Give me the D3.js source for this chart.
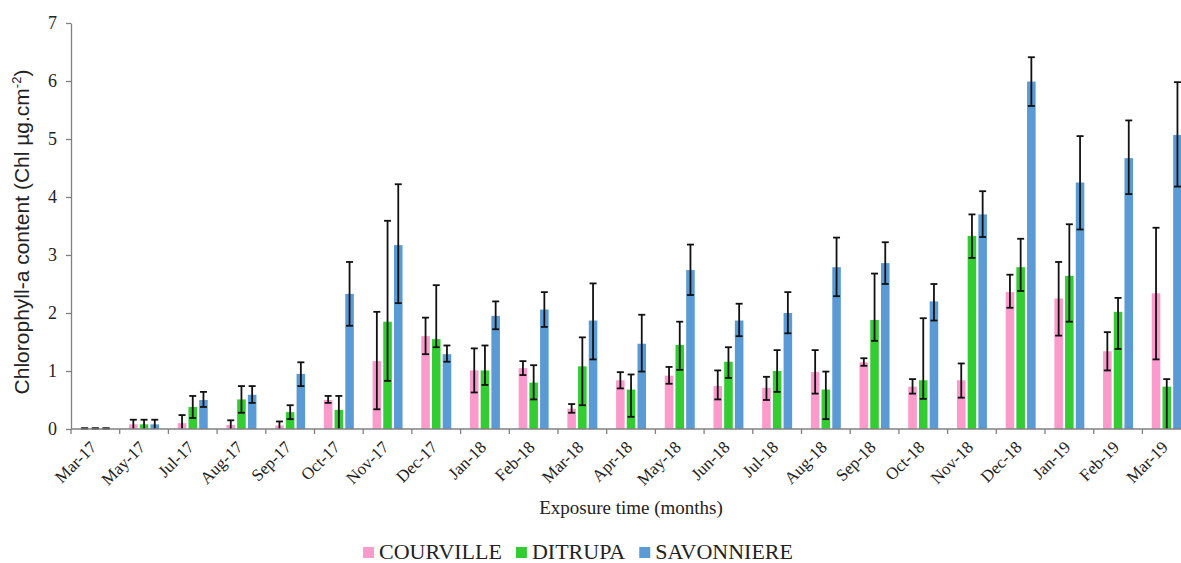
<!DOCTYPE html>
<html>
<head>
<meta charset="utf-8">
<script src="https://cdn.jsdelivr.net/npm/d3@7"></script>
<style>
  body { margin: 0; background: #fff; }
  svg { display: block; overflow: hidden; }
</style>
</head>
<body>
<div id="chart"></div>
<script>
// Data
const months = ["Mar-17", "May-17", "Jul-17", "Aug-17", "Sep-17", "Oct-17", "Nov-17", "Dec-17",
  "Jan-18", "Feb-18", "Mar-18", "Apr-18", "May-18", "Jun-18", "Jul-18", "Aug-18", "Sep-18",
  "Oct-18", "Nov-18", "Dec-18", "Jan-19", "Feb-19", "Mar-19"];
const seriesNames = ["COURVILLE", "DITRUPA", "SAVONNIERE"];
const yTicks = [0, 1, 2, 3, 4, 5, 6, 7];

const courville = [0.01, 0.08, 0.10, 0.07, 0.06, 0.50, 1.17, 1.60, 1.01, 1.05, 0.35, 0.84,
  0.92, 0.74, 0.71, 0.98, 1.15, 0.73, 0.84, 2.36, 2.25, 1.34, 2.34];
const courvillePlus = [0, 0.08, 0.14, 0.08, 0.07, 0.07, 0.85, 0.32, 0.38, 0.12, 0.08, 0.14,
  0.15, 0.27, 0.19, 0.38, 0.07, 0.13, 0.29, 0.30, 0.63, 0.33, 1.13];
const courvilleMinus = [0, 0.08, 0.10, 0.07, 0.06, 0.05, 0.83, 0.31, 0.38, 0.12, 0.07, 0.14,
  0.14, 0.23, 0.21, 0.37, 0.06, 0.12, 0.30, 0.27, 0.64, 0.33, 1.14];

const ditrupa = [0.01, 0.08, 0.38, 0.51, 0.29, 0.33, 1.85, 1.55, 1.01, 0.80, 1.08, 0.68,
  1.45, 1.16, 1.00, 0.68, 1.88, 0.84, 3.33, 2.79, 2.64, 2.02, 0.73];
const ditrupaPlus = [0, 0.08, 0.19, 0.23, 0.12, 0.24, 1.74, 0.93, 0.43, 0.30, 0.50, 0.26,
  0.40, 0.25, 0.36, 0.31, 0.80, 1.07, 0.37, 0.49, 0.89, 0.24, 0.13];
const ditrupaMinus = [0, 0.08, 0.19, 0.23, 0.12, 0.40, 1.02, 0.14, 0.25, 0.29, 0.67, 0.47,
  0.43, 0.28, 0.36, 0.51, 0.36, 0.32, 0.38, 0.41, 0.79, 0.64, 0.80];

const savonniere = [0.01, 0.08, 0.50, 0.59, 0.95, 2.33, 3.17, 1.29, 1.95, 2.06, 1.87, 1.47,
  2.74, 1.87, 2.00, 2.79, 2.86, 2.20, 3.70, 5.99, 4.25, 4.67, 5.07];
const savonnierePlus = [0, 0.08, 0.14, 0.15, 0.20, 0.55, 1.05, 0.15, 0.25, 0.30, 0.64, 0.50,
  0.44, 0.29, 0.36, 0.51, 0.36, 0.30, 0.40, 0.42, 0.80, 0.65, 0.91];
const savonniereMinus = [0, 0.08, 0.12, 0.14, 0.21, 0.55, 1.00, 0.13, 0.23, 0.30, 0.67, 0.48,
  0.43, 0.27, 0.35, 0.50, 0.36, 0.33, 0.39, 0.42, 0.81, 0.62, 0.89];

const colors = ["#fb9bcb", "#33cc33", "#5b9bd5"];

const width = 1181, height = 563;
const margin = {top: 23, left: 71, bottom: 134};
const bandStep = 48.7;
const serif = "'Liberation Serif', 'Times New Roman', serif";

const svg = d3.select("#chart").append("svg")
  .attr("width", width)
  .attr("height", height);

const x = d3.scaleBand()
  .domain(months)
  .range([margin.left, margin.left + bandStep * months.length])
  .padding(0);

const xSub = d3.scaleBand()
  .domain(seriesNames)
  .range([0, x.bandwidth()])
  .paddingInner(0.2)
  .paddingOuter(0.875);

const y = d3.scaleLinear().domain([0, 7]).range([height - margin.bottom, margin.top]);

const series = [
  {name: "COURVILLE", values: courville, plus: courvillePlus, minus: courvilleMinus},
  {name: "DITRUPA", values: ditrupa, plus: ditrupaPlus, minus: ditrupaMinus},
  {name: "SAVONNIERE", values: savonniere, plus: savonnierePlus, minus: savonniereMinus}
];

const axisColor = "#808080";

// Y axis
const yAxis = svg.append("g")
  .attr("transform", `translate(${margin.left},0)`)
  .call(d3.axisLeft(y).tickValues(yTicks).tickFormat(d3.format("d"))
    .tickSize(5).tickPadding(9).tickSizeOuter(0));
yAxis.attr("font-family", null).attr("font-size", null);
yAxis.select(".domain").attr("stroke", axisColor).attr("stroke-width", 1.3);
yAxis.selectAll(".tick line").attr("stroke", axisColor).attr("stroke-width", 1.3);
yAxis.selectAll(".tick text")
  .style("font-family", serif)
  .style("font-size", "18px")
  .attr("fill", "#222");

// Bars
series.forEach((s, si) => {
  const g = svg.append("g");
  const rows = months.map((m, i) => ({m, v: s.values[i], p: s.plus[i], n: s.minus[i]}));
  g.selectAll("rect")
    .data(rows)
    .join("rect")
    .attr("x", d => x(d.m) + xSub(s.name))
    .attr("width", xSub.bandwidth())
    .attr("y", d => y(d.v))
    .attr("height", d => y(0) - y(d.v))
    .attr("fill", colors[si]);

  // Error bars
  const cap = 3.5;
  const eb = g.selectAll("g.err")
    .data(rows)
    .join("g")
    .attr("class", "err")
    .attr("stroke", "#111")
    .attr("stroke-width", 1.8);
  const cx = d => x(d.m) + xSub(s.name) + xSub.bandwidth() / 2;
  eb.append("line")
    .attr("x1", cx).attr("x2", cx)
    .attr("y1", d => y(d.v + d.p))
    .attr("y2", d => y(Math.max(0, d.v - d.n)));
  eb.append("line")
    .attr("x1", d => cx(d) - cap).attr("x2", d => cx(d) + cap)
    .attr("y1", d => y(d.v + d.p)).attr("y2", d => y(d.v + d.p));
  eb.filter(d => d.v - d.n > 0.02 || d.n === 0)
    .append("line")
    .attr("x1", d => cx(d) - cap).attr("x2", d => cx(d) + cap)
    .attr("y1", d => y(d.v - d.n)).attr("y2", d => y(d.v - d.n));
});

// X axis (ticks between categories)
const xAxis = svg.append("g");
xAxis.append("line")
  .attr("x1", margin.left).attr("x2", x.range()[1])
  .attr("y1", y(0)).attr("y2", y(0))
  .attr("stroke", axisColor).attr("stroke-width", 1.3);
xAxis.selectAll("line.tick")
  .data(months)
  .join("line")
  .attr("class", "tick")
  .attr("x1", d => x(d)).attr("x2", d => x(d))
  .attr("y1", y(0)).attr("y2", y(0) + 5)
  .attr("stroke", axisColor).attr("stroke-width", 1.3);
xAxis.selectAll("text")
  .data(months)
  .join("text")
  .attr("transform", d => `translate(${x(d) + x.bandwidth() / 2 - 2},${y(0) + 15}) rotate(-45)`)
  .attr("text-anchor", "end")
  .attr("dy", "0.35em")
  .style("font-family", serif)
  .style("font-size", "17px")
  .attr("fill", "#222")
  .text(d => d);

// Axis titles
svg.append("text")
  .attr("x", 631)
  .attr("y", 514)
  .attr("text-anchor", "middle")
  .style("font-family", serif)
  .style("font-size", "19px")
  .attr("fill", "#222")
  .text("Exposure time (months)");

const yTitle = svg.append("text")
  .attr("transform", `translate(29,${(y(0) + y(7)) / 2 + 6}) rotate(-90)`)
  .attr("text-anchor", "middle")
  .style("font-family", "'Liberation Sans', Arial, sans-serif")
  .style("font-size", "21px")
  .attr("fill", "#222");
yTitle.append("tspan").text("Chlorophyll-a content (Chl µg.cm");
yTitle.append("tspan").style("font-size", "13px").attr("dy", -8).text("-2");
yTitle.append("tspan").attr("dy", 8).text(")");

// Legend
const legend = svg.append("g");
let lx = 0;
seriesNames.forEach((name, i) => {
  const item = legend.append("g");
  item.append("rect")
    .attr("x", 0).attr("y", -12).attr("width", 11).attr("height", 11)
    .attr("fill", colors[i]);
  const t = item.append("text")
    .attr("x", 16).attr("y", 0)
    .style("font-family", serif)
    .style("font-size", "22px")
    .attr("fill", "#222")
    .text(name);
  const w = 16 + t.node().getComputedTextLength();
  item.attr("transform", `translate(${lx},0)`);
  lx += w + 14;
});
const legendWidth = lx - 14;
legend.attr("transform", `translate(${578 - legendWidth / 2},559)`);
</script>
</body>
</html>
